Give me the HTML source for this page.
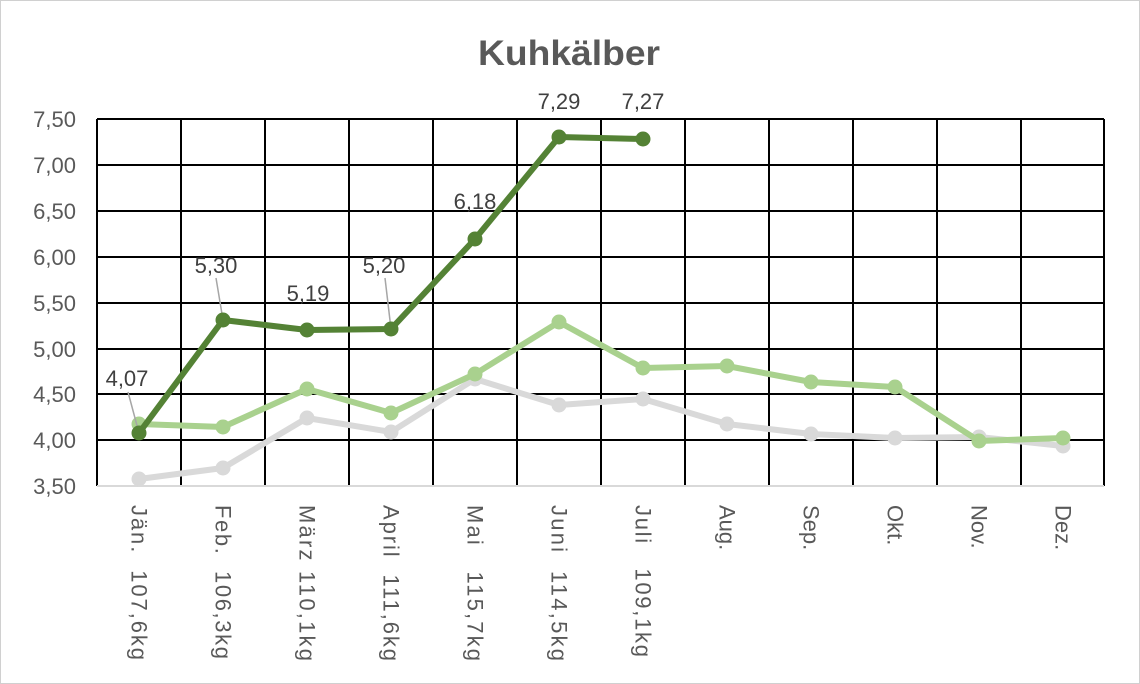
<!DOCTYPE html>
<html><head><meta charset="utf-8"><style>
html,body{margin:0;padding:0;background:#fff}
svg{display:block}
text{font-family:"Liberation Sans",sans-serif;white-space:pre}
</style></head><body>
<svg width="1140" height="684" viewBox="0 0 1140 684" xmlns="http://www.w3.org/2000/svg">
<rect x="0.5" y="0.5" width="1139" height="683" fill="#fff" stroke="#d0d0d0"/>
<text x="569" y="65" text-anchor="middle" font-size="35" font-weight="bold" fill="#595959" textLength="182" lengthAdjust="spacingAndGlyphs">Kuhkälber</text>
<g stroke="#000" stroke-width="2">
<line x1="97" y1="119" x2="1104" y2="119"/>
<line x1="97" y1="165" x2="1104" y2="165"/>
<line x1="97" y1="211" x2="1104" y2="211"/>
<line x1="97" y1="257" x2="1104" y2="257"/>
<line x1="97" y1="303" x2="1104" y2="303"/>
<line x1="97" y1="349" x2="1104" y2="349"/>
<line x1="97" y1="394" x2="1104" y2="394"/>
<line x1="97" y1="440" x2="1104" y2="440"/>
<line x1="97" y1="119" x2="97" y2="486"/>
<line x1="181" y1="119" x2="181" y2="486"/>
<line x1="265" y1="119" x2="265" y2="486"/>
<line x1="349" y1="119" x2="349" y2="486"/>
<line x1="433" y1="119" x2="433" y2="486"/>
<line x1="517" y1="119" x2="517" y2="486"/>
<line x1="601" y1="119" x2="601" y2="486"/>
<line x1="685" y1="119" x2="685" y2="486"/>
<line x1="769" y1="119" x2="769" y2="486"/>
<line x1="853" y1="119" x2="853" y2="486"/>
<line x1="937" y1="119" x2="937" y2="486"/>
<line x1="1021" y1="119" x2="1021" y2="486"/>
<line x1="1104" y1="119" x2="1104" y2="486"/>
</g>
<line x1="97" y1="486" x2="1104" y2="486" stroke="#d9d9d9" stroke-width="2"/>
<g font-size="22" fill="#595959" text-anchor="end">
<text x="76" y="127">7,50</text><text x="76" y="173">7,00</text><text x="76" y="219">6,50</text>
<text x="76" y="265">6,00</text><text x="76" y="311">5,50</text><text x="76" y="357">5,00</text>
<text x="76" y="402">4,50</text><text x="76" y="448">4,00</text><text x="76" y="494">3,50</text>
</g>
<g font-size="22" fill="#595959" dominant-baseline="central">
<text transform="translate(139,505) rotate(90)" textLength="155" lengthAdjust="spacing">Jän.  107,6kg</text>
<text transform="translate(223,505) rotate(90)" textLength="154" lengthAdjust="spacing">Feb.  106,3kg</text>
<text transform="translate(307,505) rotate(90)" textLength="156" lengthAdjust="spacing">März 110,1kg</text>
<text transform="translate(391,505) rotate(90)" textLength="156" lengthAdjust="spacing">April  111,6kg</text>
<text transform="translate(475,505) rotate(90)" textLength="156" lengthAdjust="spacing">Mai   115,7kg</text>
<text transform="translate(559,505) rotate(90)" textLength="156" lengthAdjust="spacing">Juni  114,5kg</text>
<text transform="translate(643,505) rotate(90)" textLength="152" lengthAdjust="spacing">Juli   109,1kg</text>
<text transform="translate(727,505) rotate(90)">Aug.</text>
<text transform="translate(811,505) rotate(90)">Sep.</text>
<text transform="translate(895,505) rotate(90)">Okt.</text>
<text transform="translate(979,505) rotate(90)">Nov.</text>
<text transform="translate(1063,505) rotate(90)">Dez.</text>
</g>
<g stroke="#d9d9d9" fill="#d9d9d9">
<polyline fill="none" stroke-width="6" stroke-linejoin="round" points="139,479 223,468 307,418 391,432 475,379 559,405 643,399 727,424 811,434 895,438 979,437 1063,446"/>
<circle cx="139" cy="479" r="7"/><circle cx="223" cy="468" r="7"/><circle cx="307" cy="418" r="7"/><circle cx="391" cy="432" r="7"/><circle cx="475" cy="379" r="7"/><circle cx="559" cy="405" r="7"/><circle cx="643" cy="399" r="7"/><circle cx="727" cy="424" r="7"/><circle cx="811" cy="434" r="7"/><circle cx="895" cy="438" r="7"/><circle cx="979" cy="437" r="7"/><circle cx="1063" cy="446" r="7"/>
</g>
<g stroke="#a9d18e" fill="#a9d18e">
<polyline fill="none" stroke-width="6" stroke-linejoin="round" points="139,424 223,427 307,389 391,413 475,374 559,322 643,368 727,366 811,382 895,387 979,441 1063,438"/>
<circle cx="139" cy="424" r="7"/><circle cx="223" cy="427" r="7"/><circle cx="307" cy="389" r="7"/><circle cx="391" cy="413" r="7"/><circle cx="475" cy="374" r="7"/><circle cx="559" cy="322" r="7"/><circle cx="643" cy="368" r="7"/><circle cx="727" cy="366" r="7"/><circle cx="811" cy="382" r="7"/><circle cx="895" cy="387" r="7"/><circle cx="979" cy="441" r="7"/><circle cx="1063" cy="438" r="7"/>
</g>
<g stroke="#a6a6a6" stroke-width="1.5">
<line x1="128" y1="392" x2="139" y2="433"/>
<line x1="216" y1="278" x2="223" y2="320"/>
<line x1="385" y1="278" x2="391" y2="329"/>
</g>
<g stroke="#548235" fill="#548235">
<polyline fill="none" stroke-width="6" stroke-linejoin="round" points="139,433 223,320 307,330 391,329 475,239 559,137 643,139"/>
<circle cx="139" cy="433" r="7"/><circle cx="223" cy="320" r="7"/><circle cx="307" cy="330" r="7"/><circle cx="391" cy="329" r="7"/><circle cx="475" cy="239" r="7"/><circle cx="559" cy="137" r="7"/><circle cx="643" cy="139" r="7"/>
</g>
<g font-size="22" fill="#404040" text-anchor="middle">
<text x="127" y="386">4,07</text>
<text x="216" y="273">5,30</text>
<text x="308" y="301">5,19</text>
<text x="384" y="273">5,20</text>
<text x="475" y="209">6,18</text>
<text x="559" y="109">7,29</text>
<text x="643" y="109">7,27</text>
</g>
</svg>
</body></html>
